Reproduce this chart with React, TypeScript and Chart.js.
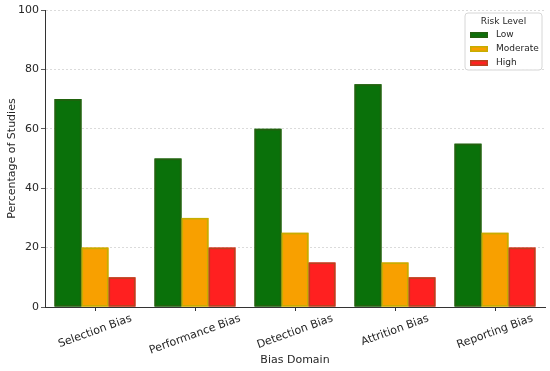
import React, { useEffect, useRef } from 'react';
import { Chart, registerables } from 'chart.js';
Chart.register(...registerables);

const categories = ['Selection Bias', 'Performance Bias', 'Detection Bias', 'Attrition Bias', 'Reporting Bias'];
const seriesNames = ['Low', 'Moderate', 'High'];
const lowValues = [70, 50, 60, 75, 55];
const moderateValues = [20, 30, 25, 15, 25];
const highValues = [10, 20, 15, 10, 20];
const legendTitle = 'Risk Level';
const xTitle = 'Bias Domain';
const yTitle = 'Percentage of Studies';

const FONT = '"DejaVu Sans", sans-serif';
const TEXT = '#262626';
const fills = ['#0a710a', '#f8a000', '#ff2020'];
const borders = ['#24600f', '#c6ad00', '#b8421e'];

const barEdgePlugin = {
  id: 'barEdges',
  afterDatasetsDraw(chart: any) {
    const ctx = chart.ctx;
    ctx.save();
    ctx.lineWidth = 1.6;
    chart.data.datasets.forEach((ds: any, di: number) => {
      const meta = chart.getDatasetMeta(di);
      meta.data.forEach((el: any) => {
        const { x, y, base, width } = el.getProps(['x', 'y', 'base', 'width'], true);
        ctx.strokeStyle = borders[di];
        ctx.strokeRect(x - width / 2 + 0.8, y + 0.8, width - 1.6, base - y - 1.6);
      });
    });
    ctx.restore();
  },
};

const xLabelsPlugin = {
  id: 'xLabels',
  afterDraw(chart: any) {
    const ctx = chart.ctx;
    const xs = chart.scales.x;
    const ang = (20 * Math.PI) / 180;
    const size = 11;
    ctx.save();
    ctx.font = `${size}px ${FONT}`;
    ctx.fillStyle = TEXT;
    ctx.textAlign = 'center';
    ctx.textBaseline = 'middle';
    categories.forEach((c, i) => {
      const x = xs.getPixelForValue(i);
      const w = ctx.measureText(c).width;
      const bh = w * Math.sin(ang) + size * Math.cos(ang);
      const cy = xs.top + 6 + bh / 2;
      ctx.save();
      ctx.translate(x, cy);
      ctx.rotate(-ang);
      ctx.fillText(c, 0, 0);
      ctx.restore();
    });
    ctx.restore();
  },
};

const legendPlugin = {
  id: 'customLegend',
  afterDraw(chart: any) {
    const ctx = chart.ctx;
    const a = chart.chartArea;
    const bw = 77;
    const bh = 57;
    const bx = a.right - bw - 3;
    const by = a.top + 3;
    ctx.save();
    ctx.fillStyle = 'rgba(255,255,255,0.85)';
    ctx.strokeStyle = '#d6d6d6';
    ctx.lineWidth = 1;
    ctx.beginPath();
    const r = 3;
    ctx.moveTo(bx + r, by);
    ctx.arcTo(bx + bw, by, bx + bw, by + bh, r);
    ctx.arcTo(bx + bw, by + bh, bx, by + bh, r);
    ctx.arcTo(bx, by + bh, bx, by, r);
    ctx.arcTo(bx, by, bx + bw, by, r);
    ctx.closePath();
    ctx.fill();
    ctx.stroke();
    ctx.fillStyle = TEXT;
    ctx.font = `9px ${FONT}`;
    ctx.textAlign = 'center';
    ctx.textBaseline = 'middle';
    ctx.fillText(legendTitle, bx + bw / 2, by + 9);
    ctx.textAlign = 'left';
    seriesNames.forEach((n, i) => {
      const cy = by + 22 + i * 14;
      const px = bx + 5;
      ctx.fillStyle = borders[i];
      ctx.fillRect(px, cy - 3, 18, 6);
      ctx.fillStyle = fills[i];
      ctx.fillRect(px + 1.5, cy - 1.5, 15, 3);
      ctx.fillStyle = TEXT;
      ctx.fillText(n, bx + 31, cy);
    });
    ctx.restore();
  },
};

export default function App() {
  const ref = useRef<HTMLCanvasElement | null>(null);
  useEffect(() => {
    if (!ref.current) return;
    const values = [lowValues, moderateValues, highValues];
    const chart = new Chart(ref.current, {
      type: 'bar',
      data: {
        labels: categories,
        datasets: seriesNames.map((n, i) => ({
          label: n,
          data: values[i],
          backgroundColor: fills[i],
          borderWidth: 0,
          categoryPercentage: 0.81,
          barPercentage: 1.0,
        })),
      },
      options: {
        animation: false,
        responsive: true,
        maintainAspectRatio: false,
        layout: { padding: { top: 10, right: 5, left: 2, bottom: 0 } },
        plugins: { legend: { display: false }, tooltip: { enabled: false } },
        scales: {
          x: {
            ticks: { display: false },
            grid: { offset: false, drawOnChartArea: false, drawTicks: true, tickLength: 4, tickColor: '#333' },
            border: { display: true, color: '#333', width: 1 },
            title: { display: true, text: xTitle, color: TEXT, font: { family: FONT, size: 11 }, padding: { top: 4, bottom: 4 } },
            afterFit(scale: any) { scale.height = 64; },
          },
          y: {
            min: 0,
            max: 100,
            ticks: { stepSize: 20, color: TEXT, font: { family: FONT, size: 11 }, padding: 2 },
            grid: { color: '#d2d2d2', lineWidth: 0.8, tickLength: 4, tickColor: '#333' },
            border: { display: true, color: '#333', width: 1, dash: [2, 2] },
            title: { display: true, text: yTitle, color: TEXT, font: { family: FONT, size: 11 }, padding: { top: 4, bottom: 4 } },
            afterFit(scale: any) { scale.width = 43; },
          },
        },
      },
      plugins: [barEdgePlugin, xLabelsPlugin, legendPlugin],
    });
    return () => chart.destroy();
  }, []);
  return (
    <div style={{ position: 'absolute', left: 0, top: 0, width: 550, height: 371, background: '#fff' }}>
      <canvas ref={ref} />
    </div>
  );
}
